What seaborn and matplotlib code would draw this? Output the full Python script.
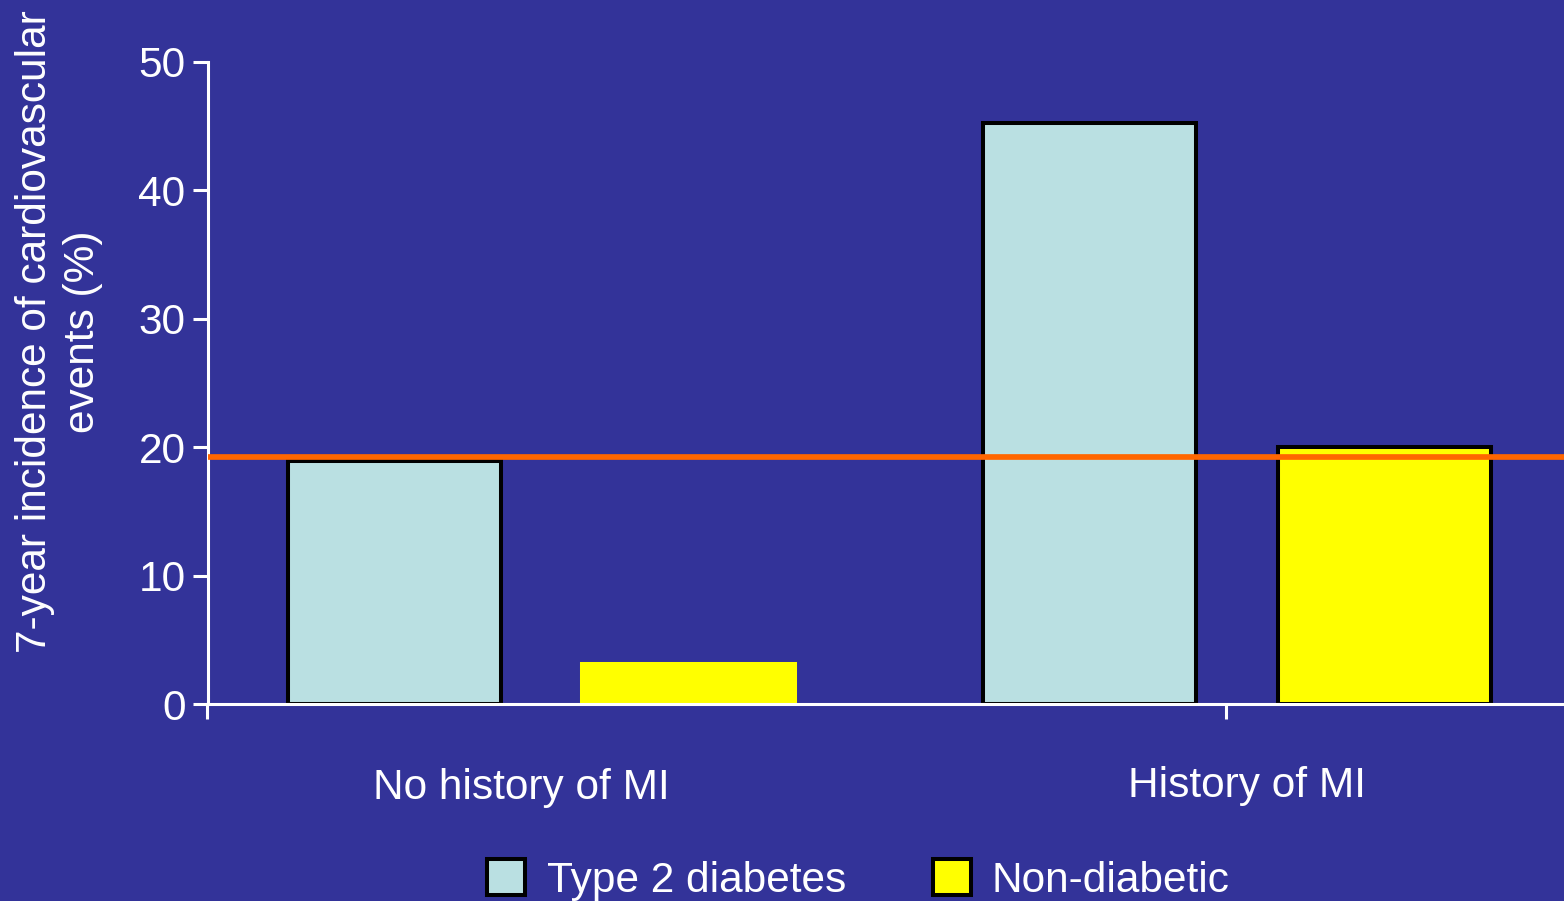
import matplotlib
matplotlib.use("Agg")
import matplotlib.pyplot as plt
from matplotlib.patches import Patch
import pandas as pd
import seaborn as sns

# Data
groups = ["No history of MI", "History of MI"]
series = ["Type 2 diabetes", "Non-diabetic"]
type2_diabetes = [18.9, 45.2]
non_diabetic = [3.1, 20.0]
reference_level = 19.2
y_ticks = [0, 10, 20, 30, 40, 50]
y_label = "7-year incidence of cardiovascular\nevents (%)"

# Styling
BG = "#333399"
palette = {"Type 2 diabetes": "#BAE0E2", "Non-diabetic": "#FFFF00"}
FS = 30.5

sns.set_style("white")
plt.rcParams["font.family"] = ["Liberation Sans", "DejaVu Sans"]

df = pd.DataFrame({
    "group": groups * 2,
    "series": [series[0]] * len(groups) + [series[1]] * len(groups),
    "value": type2_diabetes + non_diabetic,
})

W, H = 1564, 901
fig = plt.figure(figsize=(W / 100, H / 100), dpi=100, facecolor=BG)
left_px, bottom_px, top_px = 207.5, 704.3, 61.5
ax = fig.add_axes([left_px / W, (H - bottom_px) / H,
                   1 - left_px / W, (bottom_px - top_px) / H])
ax.set_facecolor(BG)

sns.barplot(data=df, x="group", y="value", hue="series",
            order=groups, hue_order=series, palette=palette,
            width=0.846, gap=0.276, saturation=1, errorbar=None,
            edgecolor="black", linewidth=2.9, legend=False, ax=ax)

# the short non-diabetic bar has no outline
short_bar = ax.containers[1][0]
short_bar.set_edgecolor(short_bar.get_facecolor())

ax.axhline(reference_level, color="#FF6600", lw=4.1, zorder=5)

x0, x1 = -0.4807, 1.4703
ax.set_xlim(x0, x1)
ax.set_ylim(0, 50)

for s in ("top", "right"):
    ax.spines[s].set_visible(False)
for s in ("left", "bottom"):
    ax.spines[s].set_color("white")
    ax.spines[s].set_linewidth(2.2)

ax.set_yticks(y_ticks)
ax.set_yticklabels([str(t) for t in y_ticks])
ax.set_xticks([x0, 0.984])
ax.set_xticklabels(["", ""])
ax.tick_params(axis="both", which="major", direction="out", length=10.8,
               width=2.2, color="white", labelcolor="white", labelsize=FS,
               pad=5, left=True, bottom=True)
for lbl in ax.get_yticklabels():
    lbl.set_va("center_baseline")
ax.set_xlabel("")
ax.set_ylabel("")

# category labels under the axis
label_x = [-0.0298, 1.014]
label_y = [-(799.3 - bottom_px) / (bottom_px - top_px),
           -(797.3 - bottom_px) / (bottom_px - top_px)]
for name, lx, ly in zip(groups, label_x, label_y):
    ax.text(lx, ly, name, transform=ax.get_xaxis_transform(),
            ha="center", va="baseline", color="white", fontsize=FS,
            clip_on=False)

fig.text(59 / W, 1 - 332 / H, y_label, rotation=90, ha="center",
         va="center", color="white", fontsize=FS, linespacing=1.25,
         multialignment="center")

handles = [Patch(facecolor=palette[s], edgecolor="black", linewidth=2.9)
           for s in series]
fig.legend(handles, series, loc="center", bbox_to_anchor=(858.5 / W, 21 / H),
           ncol=2, frameon=False, fontsize=FS, labelcolor="white",
           handlelength=0.9, handleheight=0.93, handletextpad=0.5,
           columnspacing=2.05, borderpad=0, borderaxespad=0)

fig.savefig("out.png", dpi=100, facecolor=BG)
